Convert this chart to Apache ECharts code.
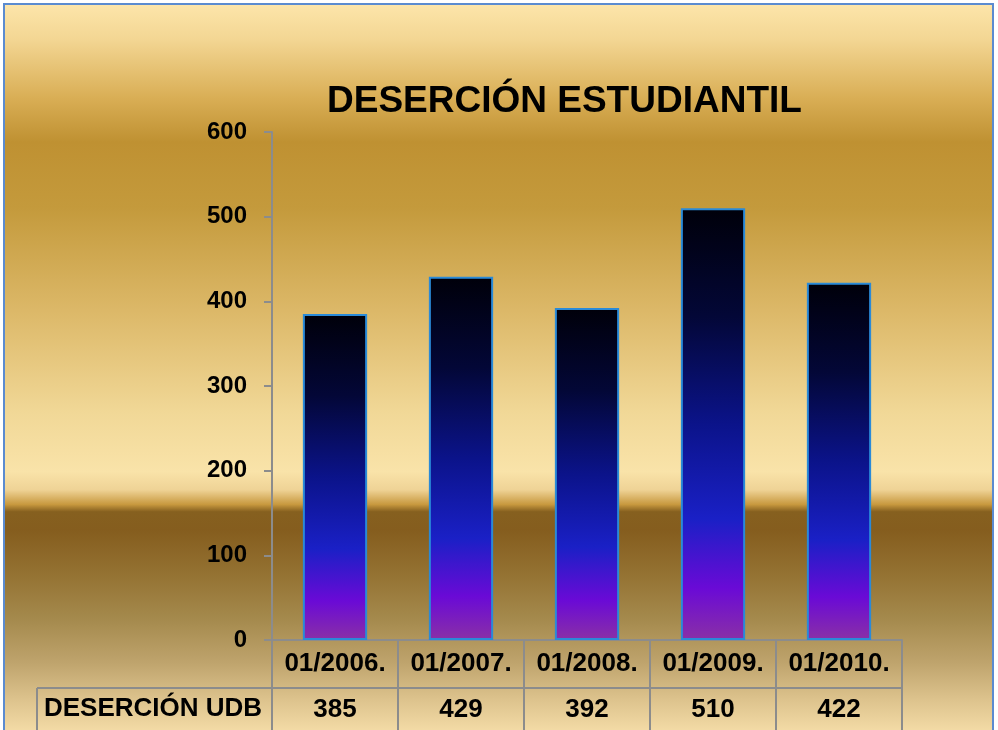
<!DOCTYPE html>
<html>
<head>
<meta charset="utf-8">
<script src="https://cdn.jsdelivr.net/npm/echarts@6/dist/echarts.min.js"></script>
<style>
	html, body { margin: 0; padding: 0; background: #ffffff; }
	#chart { width: 998px; height: 730px; }
</style>
</head>
<body>
<div id="chart"></div>
<script>
	// datos de la grafica
	var categorias = ['01/2006.', '01/2007.', '01/2008.', '01/2009.', '01/2010.'];
	var desercion = [385, 429, 392, 510, 422];
	var nombreSerie = 'DESERCIÓN UDB';
	var titulo = 'DESERCIÓN ESTUDIANTIL';

	var fuente = '"Liberation Sans", Arial, sans-serif';
	var gris = '#8c8c8c';

	//fondo dorado tipo excel
	var fondo = new echarts.graphic.LinearGradient(0, 0, 0, 1, [
		{ offset: 0.00, color: '#fde6ab' },
		{ offset: 0.05, color: '#f3d693' },
		{ offset: 0.13, color: '#d9ae55' },
		{ offset: 0.19, color: '#bf9132' },
		{ offset: 0.28, color: '#c49a3c' },
		{ offset: 0.42, color: '#dcb868' },
		{ offset: 0.56, color: '#f1d897' },
		{ offset: 0.64, color: '#f9e3a9' },
		{ offset: 0.665, color: '#efd396' },
		{ offset: 0.685, color: '#c8993f' },
		{ offset: 0.695, color: '#86601f' },
		{ offset: 0.72, color: '#855d1e' },
		{ offset: 0.78, color: '#947232' },
		{ offset: 0.84, color: '#a4894c' },
		{ offset: 0.90, color: '#bea36c' },
		{ offset: 0.95, color: '#dcc28c' },
		{ offset: 1.00, color: '#f6dea9' }
	]);

	var colorBarra = new echarts.graphic.LinearGradient(0, 0, 0, 1, [
		{ offset: 0.00, color: '#00000a' },
		{ offset: 0.25, color: '#030737' },
		{ offset: 0.50, color: '#0b138a' },
		{ offset: 0.72, color: '#1a20c6' },
		{ offset: 0.88, color: '#6a0ad6' },
		{ offset: 1.00, color: '#8a30a6' }
	]);

	var chart = echarts.init(document.getElementById('chart'));

	var option = {
		animation: false,
		title: {
			text: titulo,
			left: 322,
			top: 78,
			textStyle: {
				fontFamily: fuente,
				fontSize: 37,
				fontWeight: 'bold',
				color: '#000000'
			}
		},
		grid: {
			left: 272,
			right: 96,
			top: 132,
			bottom: 90,
			containLabel: false
		},
		xAxis: {
			type: 'category',
			data: categorias,
			axisLine: { lineStyle: { color: gris, width: 2 } },
			axisTick: {
				show: true,
				alignWithLabel: false,
				length: 92,
				lineStyle: { color: gris, width: 2 }
			},
			axisLabel: {
				interval: 0,
				margin: 1,
				formatter: function(v, i) {
					return '{c|' + v + '}\n{v|' + desercion[i] + '}';
				},
				rich: {
					c: { fontFamily: fuente, fontSize: 26, fontWeight: 'bold', color: '#000', lineHeight: 46 },
					v: { fontFamily: fuente, fontSize: 26, fontWeight: 'bold', color: '#000', lineHeight: 46 }
				}
			}
		},
		yAxis: {
			type: 'value',
			min: 0,
			max: 600,
			interval: 100,
			splitLine: { show: false },
			axisLine: { show: true, lineStyle: { color: gris, width: 2 } },
			axisTick: { show: true, length: 8, lineStyle: { color: gris, width: 2 } },
			axisLabel: {
				margin: 25,
				fontFamily: fuente,
				fontSize: 24,
				fontWeight: 'bold',
				color: '#000'
			}
		},
		series: [{
			name: nombreSerie,
			type: 'bar',
			data: desercion,
			barWidth: '51%',
			itemStyle: {
				color: colorBarra,
				borderColor: '#2a8ad8',
				borderWidth: 2
			}
		}],
		graphic: [
			{
				type: 'rect',
				z: -100,
				silent: true,
				shape: { x: 4, y: 4, width: 989, height: 730 },
				style: { fill: fondo, stroke: '#5b8bd0', lineWidth: 2 }
			},
			//tabla de datos
			{
				type: 'line',
				z: 100,
				silent: true,
				shape: { x1: 37, y1: 688, x2: 902, y2: 688 },
				style: { stroke: gris, lineWidth: 2 }
			},
			{
				type: 'line',
				z: 100,
				silent: true,
				shape: { x1: 37, y1: 688, x2: 37, y2: 732 },
				style: { stroke: gris, lineWidth: 2 }
			},
			{
				type: 'text',
				z: 100,
				silent: true,
				x: 44,
				y: 709,
				style: {
					text: nombreSerie,
					fontFamily: fuente,
					fontSize: 26,
					fontWeight: 'bold',
					fill: '#000',
					verticalAlign: 'middle'
				}
			}
		]
	};

	chart.setOption(option);
</script>
</body>
</html>
